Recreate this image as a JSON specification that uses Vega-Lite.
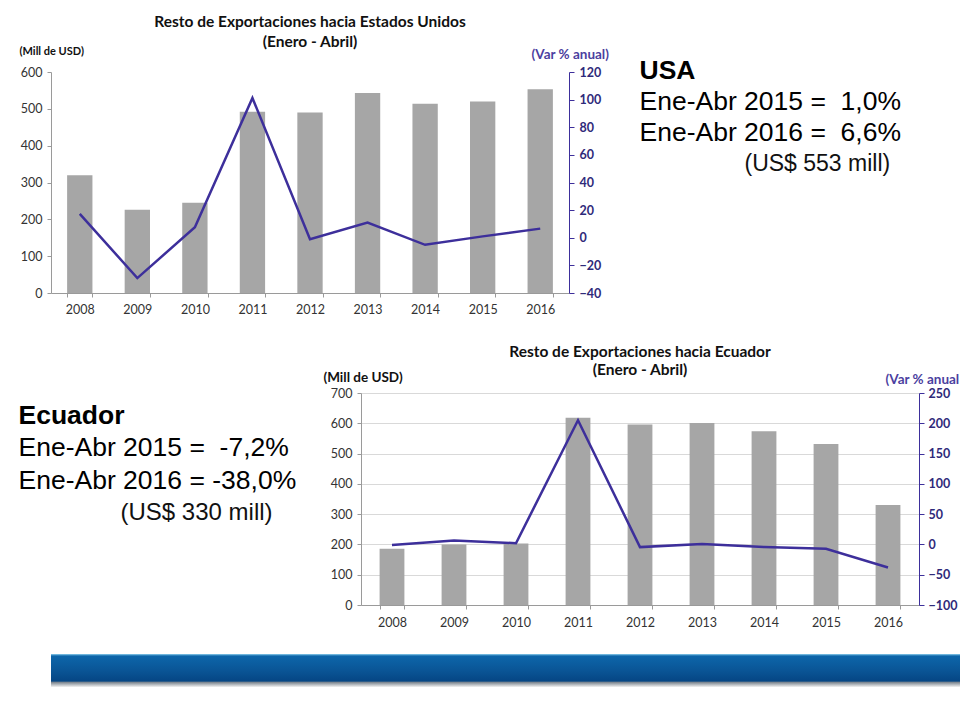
{
  "$schema": "https://vega.github.io/schema/vega-lite/v6.json",
  "background": "white",
  "padding": {"left": 18, "top": 14, "right": 0, "bottom": 0},
  "config": {
    "view": {"stroke": null},
    "axis": {"labelFont": "Lato", "labelFontSize": 12.5, "labelColor": "#333333", "titleFont": "Lato", "titleFontSize": 11},
    "title": {"font": "Lato", "fontSize": 15.5, "fontWeight": "bold", "color": "#111111", "subtitleFont": "Lato", "subtitleFontSize": 15.5, "subtitleFontWeight": "bold", "subtitleColor": "#111111"}
  },
  "spacing": 25,
  "vconcat": [
    {
      "spacing": 30,
      "hconcat": [
        {
          "width": 518,
          "height": 221,
          "title": {"text": "Resto de Exportaciones hacia Estados Unidos", "subtitle": "(Enero - Abril)", "anchor": "middle", "frame": "group", "offset": -5.5, "subtitlePadding": 5},
          "data": {"values": [
            {"year": "2008", "usd": 320, "var": 17.3},
            {"year": "2009", "usd": 226, "var": -29.2},
            {"year": "2010", "usd": 245, "var": 7.6},
            {"year": "2011", "usd": 492, "var": 101.2},
            {"year": "2012", "usd": 490, "var": -1.0},
            {"year": "2013", "usd": 543, "var": 11.0},
            {"year": "2014", "usd": 514, "var": -5.1},
            {"year": "2015", "usd": 520, "var": 1.0},
            {"year": "2016", "usd": 553, "var": 6.6}
          ]},
          "encoding": {
            "x": {"field": "year", "type": "ordinal", "scale": {"paddingInner": 0.56, "paddingOuter": 0.28},
              "axis": {"title": null, "labelAngle": 0, "tickBand": "extent", "domainColor": "#9a9a9a", "tickColor": "#9a9a9a", "tickSize": 4, "labelPadding": 6}}
          },
          "layer": [
            {
              "mark": {"type": "bar", "color": "#a6a6a6"},
              "encoding": {
                "y": {"field": "usd", "type": "quantitative", "scale": {"domain": [0, 600]},
                  "axis": {"values": [0, 100, 200, 300, 400, 500, 600], "grid": false, "title": "(Mill de USD)", "titleAngle": 0, "titleAlign": "left", "titleBaseline": "middle", "titleX": -32, "titleY": -21, "titleFontWeight": "bold", "titleColor": "#111111", "domainColor": "#9a9a9a", "tickColor": "#9a9a9a", "tickSize": 4, "labelPadding": 5}}
              }
            },
            {
              "mark": {"type": "line", "color": "#3d2f9b", "strokeWidth": 2.5},
              "encoding": {
                "y": {"field": "var", "type": "quantitative", "scale": {"domain": [-40, 120]},
                  "axis": {"orient": "right", "values": [-40, -20, 0, 20, 40, 60, 80, 100, 120], "grid": false, "title": "(Var % anual)", "titleAngle": 0, "titleAlign": "left", "titleBaseline": "middle", "titleX": -38, "titleY": -18, "titleFontSize": 13.5, "titleColor": "#4b3fa0", "titleFontWeight": "bold", "labelColor": "#2f2a7a", "labelFontWeight": "bold", "domainColor": "#3d2f9b", "tickColor": "#3d2f9b", "tickSize": 5, "labelPadding": 5}}
              }
            }
          ],
          "resolve": {"scale": {"y": "independent"}}
        },
        {
          "width": 1,
          "height": 248,
          "encoding": {
            "y": {"field": "line", "type": "ordinal", "axis": null, "scale": {"type": "point", "padding": 0, "domain": [1, 2, 3, 4, 5, 6, 7, 8, 9]}}
          },
          "layer": [
            {
              "data": {"values": [{"line": 1, "t": "USA"}]},
              "mark": {"type": "text", "align": "left", "dy": -1.5, "font": "Liberation Sans", "fontSize": 26.5, "fontWeight": "bold", "color": "#000000"},
              "encoding": {"text": {"field": "t"}}
            },
            {
              "data": {"values": [{"line": 2, "t": "Ene-Abr 2015 =\u00a0 1,0%"}, {"line": 3, "t": "Ene-Abr 2016 =\u00a0 6,6%"}]},
              "mark": {"type": "text", "align": "left", "dy": -1.5, "font": "Liberation Sans", "fontSize": 26.5, "color": "#000000"},
              "encoding": {"text": {"field": "t"}}
            },
            {
              "data": {"values": [{"line": 4, "t": "(US$ 553 mill)"}]},
              "mark": {"type": "text", "align": "left", "dx": 105, "dy": -1.5, "font": "Liberation Sans", "fontSize": 23, "color": "#111111"},
              "encoding": {"text": {"field": "t"}}
            }
          ]
        }
      ]
    },
    {
      "spacing": 26,
      "hconcat": [
        {
          "width": 1,
          "height": 143,
          "encoding": {
            "y": {"field": "line", "type": "ordinal", "axis": null, "scale": {"type": "point", "padding": 0.712}}
          },
          "layer": [
            {
              "data": {"values": [{"line": 1, "t": "Ecuador"}]},
              "mark": {"type": "text", "align": "left", "dx": -33, "font": "Liberation Sans", "fontSize": 26.5, "fontWeight": "bold", "color": "#000000"},
              "encoding": {"text": {"field": "t"}}
            },
            {
              "data": {"values": [{"line": 2, "t": "Ene-Abr 2015 =\u00a0 -7,2%"}, {"line": 3, "t": "Ene-Abr 2016 = -38,0%"}]},
              "mark": {"type": "text", "align": "left", "dx": -33, "font": "Liberation Sans", "fontSize": 26.5, "color": "#000000"},
              "encoding": {"text": {"field": "t"}}
            },
            {
              "data": {"values": [{"line": 4, "t": "(US$ 330 mill)"}]},
              "mark": {"type": "text", "align": "left", "dx": 69, "font": "Liberation Sans", "fontSize": 24, "color": "#111111"},
              "encoding": {"text": {"field": "t"}}
            }
          ]
        },
        {
          "width": 558,
          "height": 212,
          "title": {"text": "Resto de Exportaciones hacia Ecuador", "subtitle": "(Enero - Abril)", "anchor": "middle", "frame": "group", "offset": -8.5, "subtitlePadding": 2.5},
          "data": {"values": [
            {"year": "2008", "usd": 186, "var": -1.0},
            {"year": "2009", "usd": 200, "var": 6.6},
            {"year": "2010", "usd": 203, "var": 2.0},
            {"year": "2011", "usd": 618, "var": 205.0},
            {"year": "2012", "usd": 596, "var": -4.4},
            {"year": "2013", "usd": 601, "var": 0.5},
            {"year": "2014", "usd": 574, "var": -4.4},
            {"year": "2015", "usd": 532, "var": -7.2},
            {"year": "2016", "usd": 330, "var": -38.0}
          ]},
          "encoding": {
            "x": {"field": "year", "type": "ordinal", "scale": {"paddingInner": 0.6, "paddingOuter": 0.3},
              "axis": {"title": null, "labelAngle": 0, "tickBand": "extent", "domainColor": "#9a9a9a", "tickColor": "#9a9a9a", "tickSize": 4, "labelPadding": 7}}
          },
          "layer": [
            {
              "mark": {"type": "bar", "color": "#a6a6a6"},
              "encoding": {
                "y": {"field": "usd", "type": "quantitative", "scale": {"domain": [0, 700]},
                  "axis": {"values": [0, 100, 200, 300, 400, 500, 600, 700], "grid": true, "gridColor": "#d9d9d9", "title": "(Mill de USD)", "titleAngle": 0, "titleAlign": "left", "titleBaseline": "middle", "titleX": -38, "titleY": -16, "titleFontSize": 13.5, "titleFontWeight": "bold", "titleColor": "#111111", "domainColor": "#9a9a9a", "tickColor": "#9a9a9a", "tickSize": 4, "labelPadding": 5}}
              }
            },
            {
              "mark": {"type": "line", "color": "#3d2f9b", "strokeWidth": 2.5},
              "encoding": {
                "y": {"field": "var", "type": "quantitative", "scale": {"domain": [-100, 250]},
                  "axis": {"orient": "right", "values": [-100, -50, 0, 50, 100, 150, 200, 250], "grid": false, "title": "(Var % anual", "titleAngle": 0, "titleAlign": "left", "titleBaseline": "middle", "titleX": -34, "titleY": -14, "titleFontSize": 13.5, "titleColor": "#4b3fa0", "titleFontWeight": "bold", "labelColor": "#2f2a7a", "labelFontWeight": "bold", "domainColor": "#3d2f9b", "tickColor": "#3d2f9b", "tickSize": 5, "labelPadding": 4}}
              }
            }
          ],
          "resolve": {"scale": {"y": "independent"}}
        }
      ]
    },
    {
      "width": 942,
      "height": 33,
      "data": {"values": [{"band": "footer"}]},
      "mark": {"type": "rect", "fill": {"gradient": "linear", "x1": 0, "y1": 0, "x2": 0, "y2": 1, "stops": [
        {"offset": 0, "color": "#8fd0ee"},
        {"offset": 0.06, "color": "#0d66aa"},
        {"offset": 0.5, "color": "#0a5596"},
        {"offset": 0.82, "color": "#054684"},
        {"offset": 0.86, "color": "#7d8791"},
        {"offset": 1, "color": "#f2f2f2"}
      ]}},
      "encoding": {}
    }
  ]
}
